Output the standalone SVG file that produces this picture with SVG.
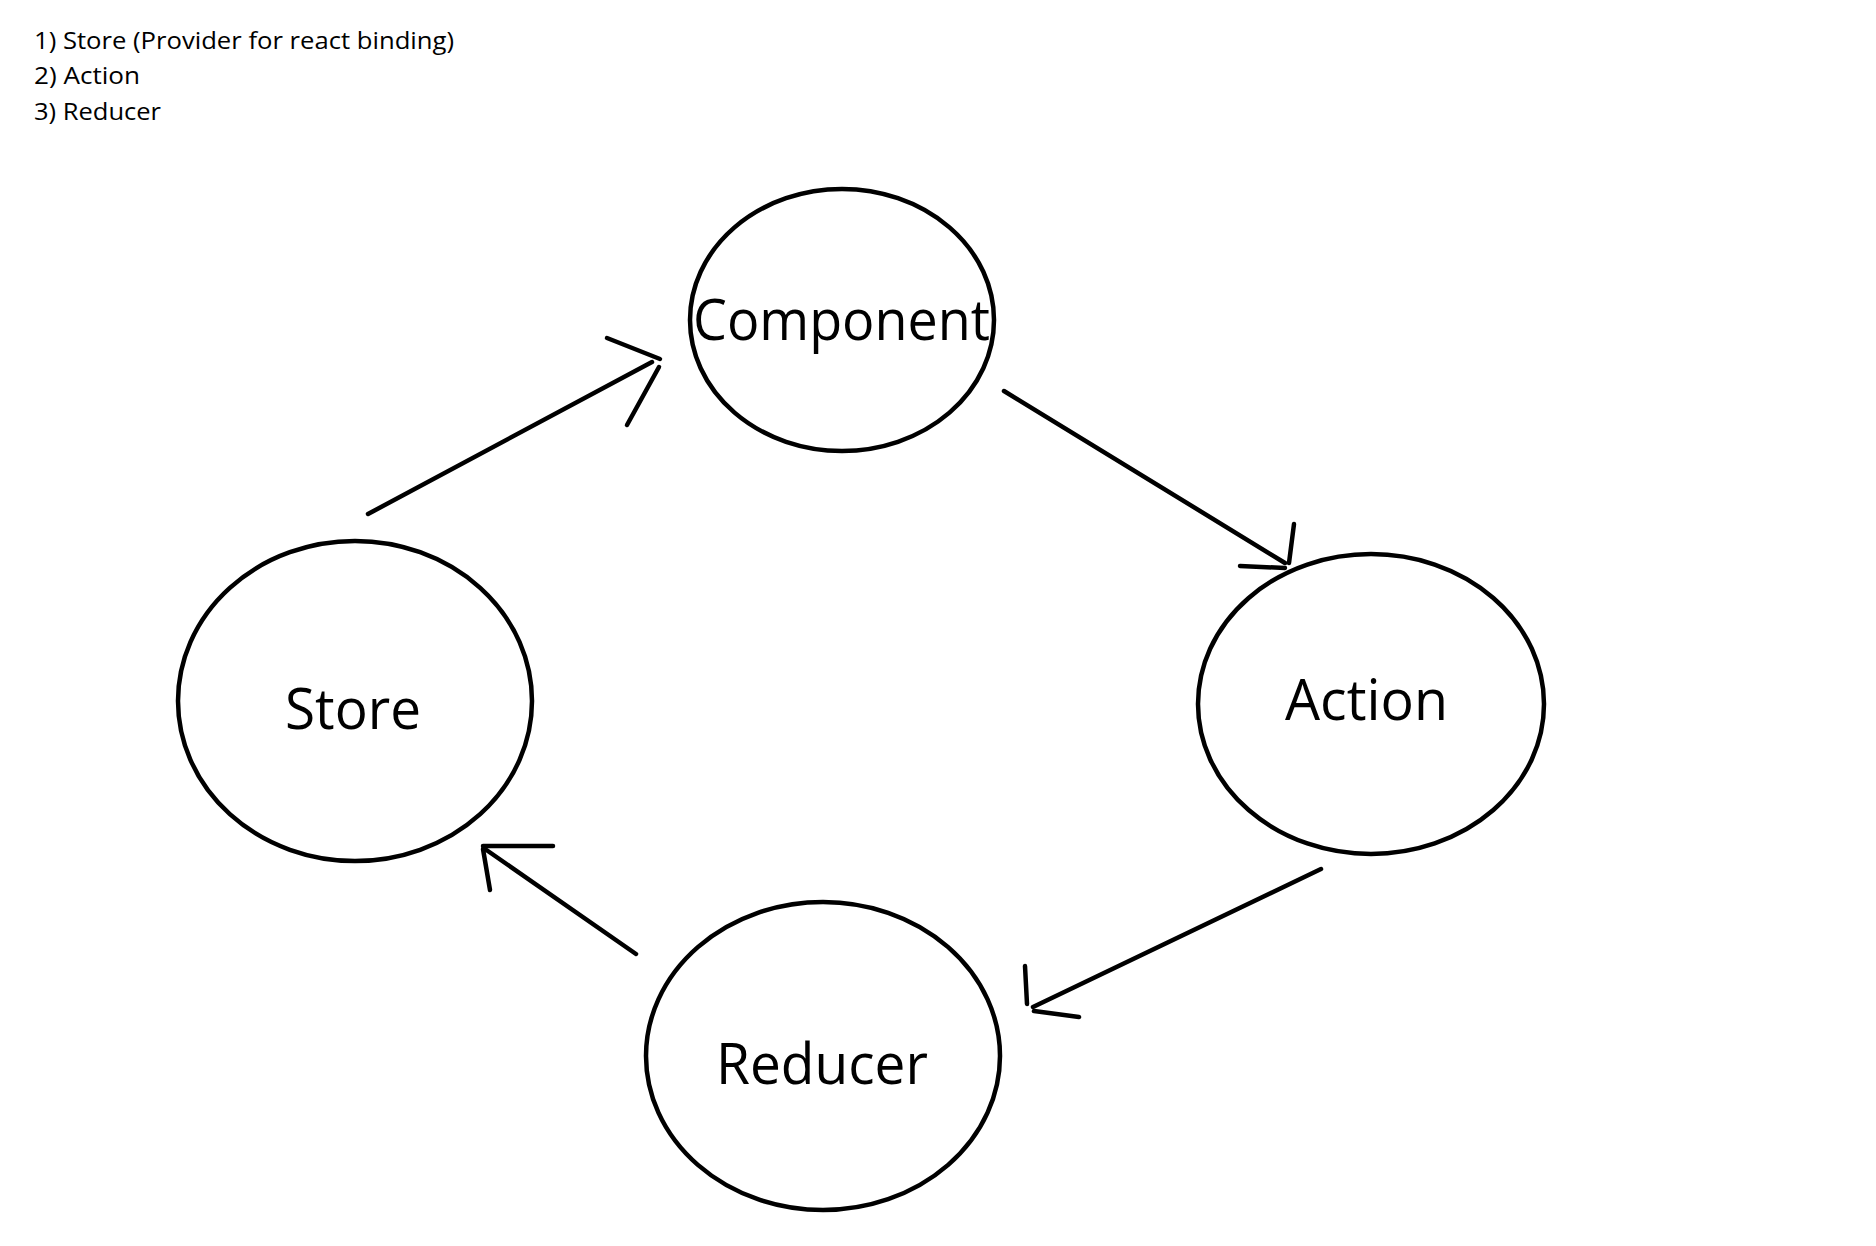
<svg xmlns="http://www.w3.org/2000/svg" width="1876" height="1246" viewBox="0 0 1876 1246">
<style>
.bg{fill:#ffffff}
.node ellipse{fill:none;stroke:#000000;stroke-width:4.5}
.lbl{font-family:"Open Sans","Noto Sans","DejaVu Sans",sans-serif;font-size:56px;fill:#000000}
.hdr{font-family:"Open Sans","Noto Sans","DejaVu Sans",sans-serif;font-size:24px;fill:#000000}
.conn line{stroke:#000000;stroke-width:4.5;stroke-linecap:round}
</style>
<rect class="bg" x="0" y="0" width="1876" height="1246"/>
<g id="legend">
<text class="hdr" x="34" y="49" textLength="420" lengthAdjust="spacingAndGlyphs">1) Store (Provider for react binding)</text>
<text class="hdr" x="34" y="84" textLength="106" lengthAdjust="spacingAndGlyphs">2) Action</text>
<text class="hdr" x="34" y="120" textLength="127" lengthAdjust="spacingAndGlyphs">3) Reducer</text>
</g>
<g id="node-component" class="node">
<ellipse cx="842" cy="320" rx="152" ry="131"/>
<text class="lbl" x="693" y="340" textLength="297" lengthAdjust="spacingAndGlyphs">Component</text>
</g>
<g id="node-store" class="node">
<ellipse cx="355" cy="701" rx="177" ry="160"/>
<text class="lbl" x="285" y="729" textLength="136" lengthAdjust="spacingAndGlyphs">Store</text>
</g>
<g id="node-action" class="node">
<ellipse cx="1371" cy="704" rx="173" ry="150"/>
<text class="lbl" x="1285" y="720" textLength="163" lengthAdjust="spacingAndGlyphs">Action</text>
</g>
<g id="node-reducer" class="node">
<ellipse cx="823" cy="1056" rx="177" ry="154"/>
<text class="lbl" x="716" y="1084" textLength="212" lengthAdjust="spacingAndGlyphs">Reducer</text>
</g>
<g id="connectors" class="conn">
<line x1="368" y1="514" x2="652" y2="362"/>
<line x1="607" y1="338" x2="660" y2="359"/>
<line x1="659" y1="367" x2="627" y2="425"/>
<line x1="1004" y1="391" x2="1285" y2="563"/>
<line x1="1294" y1="524" x2="1289" y2="563"/>
<line x1="1240" y1="566" x2="1285" y2="568"/>
<line x1="1321" y1="869" x2="1033" y2="1007"/>
<line x1="1025" y1="966" x2="1027" y2="1004"/>
<line x1="1034" y1="1011" x2="1079" y2="1017"/>
<line x1="636" y1="954" x2="485" y2="849"/>
<line x1="483" y1="846" x2="553" y2="846"/>
<line x1="483" y1="849" x2="490" y2="890"/>
</g>
</svg>
